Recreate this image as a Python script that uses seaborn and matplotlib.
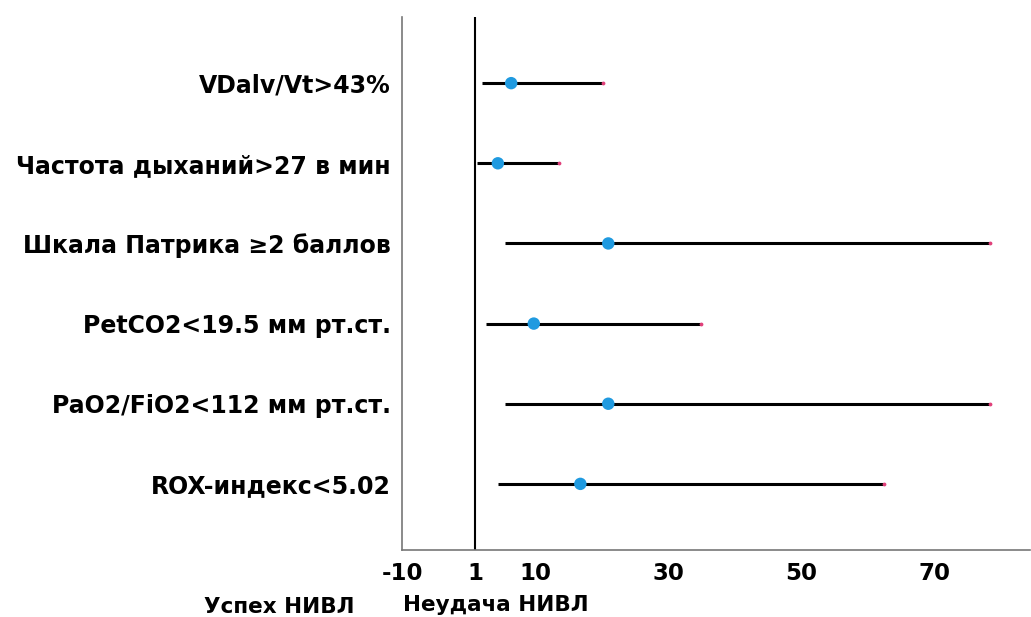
import matplotlib
matplotlib.use("Agg")
import matplotlib.pyplot as plt
import seaborn as sns
import pandas as pd

factors = [
    "VDalv/Vt>43%",
    "Частота дыханий>27 в мин",
    "Шкала Патрика ≥2 баллов",
    "PetCO2<19.5 мм рт.ст.",
    "PaO2/FiO2<112 мм рт.ст.",
    "ROX-индекс<5.02",
]
odds = [6.4, 4.4, 21.0, 9.8, 21.0, 16.8]
ci_low = [2.0, 1.3, 5.5, 2.6, 5.5, 4.4]
ci_high = [20.2, 13.6, 78.4, 35.0, 78.4, 62.5]
xticks = [-10, 1, 10, 30, 50, 70]

df = pd.DataFrame({"factor": factors, "or": odds, "lo": ci_low, "hi": ci_high})
df["pos"] = range(len(df))

sns.set_style("white")
plt.rcParams["font.family"] = ["DejaVu Sans"]
plt.rcParams["text.color"] = "black"
plt.rcParams["xtick.color"] = "black"
plt.rcParams["ytick.color"] = "black"

fig = plt.figure(figsize=(10.31, 6.17), dpi=100)
ax = fig.add_axes([0.390, 0.1086, 0.609, 0.8638])

# confidence intervals + point estimates
ax.hlines(df["pos"], df["lo"], df["hi"], color="black", linewidth=2.2, zorder=2)
ax.scatter(df["hi"], df["pos"], s=3, color="#e0407a", zorder=3)
sns.scatterplot(data=df, x="or", y="pos", color="#1f9ae0", s=80,
                edgecolor="none", zorder=4, ax=ax)
ax.axvline(1, color="black", linewidth=1.5, zorder=1)

ax.set_xlim(-10, 84.4)
ax.set_ylim(len(df) - 1 + 0.825, -0.825)
ax.set_yticks(df["pos"])
ax.set_yticklabels(df["factor"], fontsize=17, fontweight="bold")
ax.set_xticks(xticks)
ax.set_xticklabels([str(t) for t in xticks], fontsize=16.5, fontweight="bold")
ax.tick_params(axis="y", length=0, pad=8)
ax.tick_params(axis="x", length=0, pad=9)
ax.set_xlabel("")
ax.set_ylabel("")

for s in ["top", "right"]:
    ax.spines[s].set_visible(False)
ax.spines["left"].set_color("#777777")
ax.spines["bottom"].set_color("#777777")
ax.spines["left"].set_linewidth(1.2)
ax.spines["bottom"].set_linewidth(1.2)

fig.text(279 / 1031, 1 - 607 / 617, "Успех НИВЛ", fontsize=15.5, fontweight="bold",
         ha="center", va="center")
fig.text(496 / 1031, 1 - 605 / 617, "Неудача НИВЛ", fontsize=15.5, fontweight="bold",
         ha="center", va="center")

fig.savefig("out.png", dpi=100)
